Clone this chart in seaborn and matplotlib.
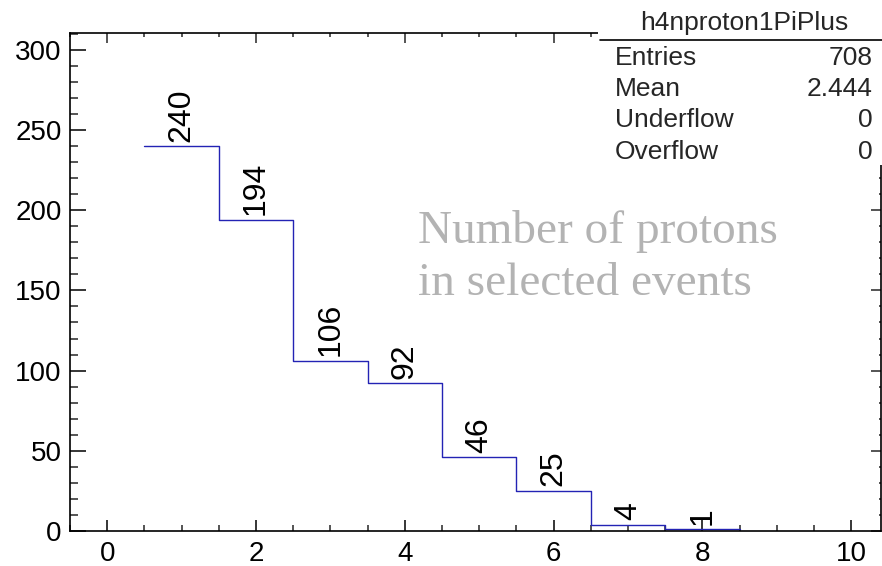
import matplotlib
matplotlib.use("Agg")
import matplotlib.pyplot as plt
import seaborn as sns
import numpy as np
from matplotlib.lines import Line2D
from matplotlib.patches import Rectangle
from matplotlib.ticker import MultipleLocator

# ---- data ----
bin_centers = [1, 2, 3, 4, 5, 6, 7, 8]
bin_edges = [0.5, 1.5, 2.5, 3.5, 4.5, 5.5, 6.5, 7.5, 8.5]
counts = [240, 194, 106, 92, 46, 25, 4, 1]
hist_name = "h4nproton1PiPlus"
stat_names = ["Entries", "Mean", "Underflow", "Overflow"]
stat_values = ["708", "2.444", "0", "0"]
overlay_lines = ["Number of protons", "in selected events"]
x_ticks = [0, 2, 4, 6, 8, 10]
y_ticks = [0, 50, 100, 150, 200, 250, 300]

sns.set_theme(style="white")
plt.rcParams["font.family"] = ["Liberation Sans", "DejaVu Sans"]

W, H = 882, 566
fig = plt.figure(figsize=(W / 100, H / 100), dpi=100)
fig.patch.set_facecolor("white")

def fx(px):
    return px / W

def fy(py):
    return 1 - py / H

L, R, T, B = 70, 881, 33, 531
ax = fig.add_axes([fx(L), fy(B), fx(R) - fx(L), fy(T) - fy(B)])
ax.set_facecolor("white")

line_color = "#2323b4"
sns.histplot(x=bin_centers, weights=counts, bins=bin_edges, element="step",
             fill=False, color=line_color, linewidth=1.0, ax=ax)
ax.set_xlim(-0.5, 10.4)
ax.set_ylim(0, 310.5)
ax.set_xlabel("")
ax.set_ylabel("")

for c, v in zip(bin_centers, counts):
    ax.text(c, v + 2.8, str(v), rotation=90, ha="center", va="bottom",
            fontsize=23, color="black")

ax.set_xticks(x_ticks)
ax.set_yticks(y_ticks)
ax.xaxis.set_minor_locator(MultipleLocator(0.5))
ax.yaxis.set_minor_locator(MultipleLocator(10))
ax.set_xticklabels([str(t) for t in x_ticks])
ax.set_yticklabels([str(t) for t in y_ticks])

for s in ax.spines.values():
    s.set_color("black")
    s.set_linewidth(1.2)

ax.tick_params(axis="x", which="major", direction="in", length=8, width=1.1,
               labelsize=20, pad=7, colors="black", bottom=True, top=False)
ax.tick_params(axis="x", which="minor", direction="in", length=4, width=1.1,
               bottom=True, top=False)
ax.tick_params(axis="y", which="major", direction="in", length=11.5, width=1.1,
               labelsize=20, pad=6, colors="black", left=True, right=False)
ax.tick_params(axis="y", which="minor", direction="in", length=5.8, width=1.1,
               left=True, right=False)

# top and right ticks (shorter)
axt = ax.secondary_xaxis("top")
axt.set_xticks(x_ticks)
axt.xaxis.set_minor_locator(MultipleLocator(0.5))
axt.tick_params(which="major", direction="in", length=7, width=1.1, labeltop=False)
axt.tick_params(which="minor", direction="in", length=3, width=1.1)
axt.spines["top"].set_visible(False)
axr = ax.secondary_yaxis("right")
axr.set_yticks(y_ticks)
axr.yaxis.set_minor_locator(MultipleLocator(10))
axr.tick_params(which="major", direction="in", length=7, width=1.1, labelright=False)
axr.tick_params(which="minor", direction="in", length=1.5, width=1.1)
axr.spines["right"].set_visible(False)

# overlay annotation (one text per line)
for line, base in zip(overlay_lines, [243, 295]):
    fig.text(fx(418), fy(base), line, fontsize=34,
             family=["Liberation Serif", "DejaVu Serif"],
             color="#b3b3b3", ha="left", va="baseline")

# stats box
fig.add_artist(Rectangle((fx(598), fy(165)), 1 - fx(598), fy(0) - fy(165),
                         transform=fig.transFigure, facecolor="white",
                         edgecolor="none", zorder=5))
fig.add_artist(Line2D([fx(600), 1], [fy(40), fy(40)], transform=fig.transFigure,
                      color="black", linewidth=1.2, zorder=6))
fig.text(fx(744), fy(30), hist_name, ha="center", va="baseline", fontsize=19,
         zorder=7)
baselines = [65, 96, 127, 159]
for name, val, b in zip(stat_names, stat_values, baselines):
    fig.text(fx(615), fy(b), name, ha="left", va="baseline", fontsize=19, zorder=7)
    fig.text(fx(873), fy(b), val, ha="right", va="baseline", fontsize=19, zorder=7)

fig.savefig("out.png", dpi=100, facecolor="white")
